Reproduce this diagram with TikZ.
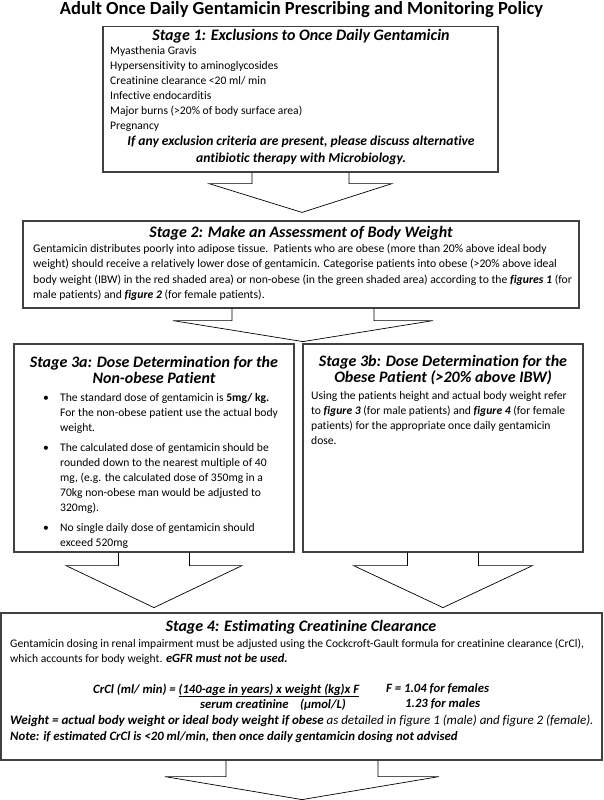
\documentclass[tikz,border=0pt]{standalone}
\usepackage{fontspec}
\setmainfont{Carlito}[Ligatures=NoCommon]
\usetikzlibrary{positioning, calc}
\definecolor{boxgray}{RGB}{64, 64, 64}

% block arrow: from, tip, stem half width, head half width, stem length
\newcommand{\flowarrow}[5]{%
  \draw[arrowline] ($(#1)+(-#3,0)$) -- ($(#1)+(-#3,#5)$) -- ($(#1)+(-#4,#5)$)
    -- (#2) -- ($(#1)+(#4,#5)$) -- ($(#1)+(#3,#5)$) -- ($(#1)+(#3,0)$);
}

\begin{document}
\begin{tikzpicture}[x=1pt, y=-1pt,
  stagebox/.style={draw=boxgray, line width=1.2pt, inner sep=0pt},
  arrowline/.style={draw=black, line width=0.7pt, line join=miter},
  heading/.style={font=\bfseries\itshape\fontsize{16}{16.5}\selectfont, align=center, inner sep=0pt},
  body/.style={font=\fontsize{11.6}{15}\selectfont, align=left, inner sep=0pt, anchor=north west},
  formula/.style={body, font=\bfseries\itshape\fontsize{12.7}{15}\selectfont},
  note/.style={font=\bfseries\itshape\fontsize{13.6}{17}\selectfont, align=center, inner sep=0pt}
]
  \useasboundingbox (0,0) rectangle (603,800);

  \node[font=\bfseries\fontsize{18.5}{20}\selectfont, inner sep=0pt] (title) at (301.5,10)
    {Adult Once Daily Gentamicin Prescribing and Monitoring Policy};

  % Stage 1
  \node[stagebox, minimum width=395, minimum height=145.5] (s1) at (300.5,99.25) {};
  \node[heading] (s1head) at (301,36.5) {Stage 1: Exclusions to Once Daily Gentamicin};
  \node[body] (s1list) at (110,46) {
    Myasthenia Gravis\\
    Hypersensitivity to aminoglycosides\\
    Creatinine clearance <20 ml/ min\\
    Infective endocarditis\\
    Major burns (>20\% of body surface area)\\
    Pregnancy
  };
  \node[note] (s1note) at (301,150) {
    If any exclusion criteria are present, please discuss alternative\\
    antibiotic therapy with Microbiology.
  };

  % Stage 2
  \node[stagebox, minimum width=556, minimum height=87] (s2) at (301,264.5) {};
  \node[heading] (s2head) at (301,233) {Stage 2: Make an Assessment of Body Weight};
  \node[body, font=\fontsize{11.7}{15.5}\selectfont] (s2text) at (33,243.5) {
    Gentamicin distributes poorly into adipose tissue.\ \ Patients who are obese (more than 20\% above ideal body\\
    weight) should receive a relatively lower dose of gentamicin. Categorise patients into obese (>20\% above ideal\\
    body weight (IBW) in the red shaded area) or non-obese (in the green shaded area) according to the \textbf{\textit{figures 1}} (for\\
    male patients) and \textbf{\textit{figure 2}} (for female patients).
  };

  % Stage 3a
  \node[stagebox, minimum width=280, minimum height=208] (s3a) at (154,448) {};
  \node[heading] (s3ahead) at (154,370) {Stage 3a: Dose Determination for the\\Non-obese Patient};
  \node[body] (s3atext) at (43,391) {
    \begin{tabular}{@{}p{12pt}@{\hspace{5pt}}l@{}}
      \textbullet & The standard dose of gentamicin is \textbf{5mg/ kg.}\\
                  & For the non-obese patient use the actual body\\
                  & weight.\\[5pt]
      \textbullet & The calculated dose of gentamicin should be\\
                  & rounded down to the nearest multiple of 40\\
                  & mg, (e.g. the calculated dose of 350mg in a\\
                  & 70kg non-obese man would be adjusted to\\
                  & 320mg).\\[5pt]
      \textbullet & No single daily dose of gentamicin should\\
                  & exceed 520mg
    \end{tabular}
  };

  % Stage 3b
  \node[stagebox, minimum width=280, minimum height=208] (s3b) at (443,448) {};
  \node[heading] (s3bhead) at (443,370) {Stage 3b: Dose Determination for the\\Obese Patient (>20\% above IBW)};
  \node[body] (s3btext) at (311,391) {
    Using the patients height and actual body weight refer\\
    to \textbf{\textit{figure 3}} (for male patients) and \textbf{\textit{figure 4}} (for female\\
    patients) for the appropriate once daily gentamicin\\
    dose.
  };

  % Stage 4
  \node[stagebox, minimum width=601, minimum height=147] (s4) at (301.5,686.5) {};
  \node[heading] (s4head) at (301,627) {Stage 4: Estimating Creatinine Clearance};
  \node[body] (s4text) at (10,639) {
    Gentamicin dosing in renal impairment must be adjusted using the Cockcroft-Gault formula for creatinine clearance (CrCl),\\
    which accounts for body weight. \textbf{\textit{\fontsize{12.5}{15}\selectfont eGFR must not be used.}}
  };
  \node[formula] (f1) at (93,683.5)
    {CrCl (ml/ min) = \underline{(140-age in years) x weight (kg)x F}};
  \node[formula] (f2) at (386,683.5) {F = 1.04 for females};
  \node[formula] (f3) at (200,698.5) {serum creatinine\ \ \ \ (µmol/L)};
  \node[formula] (f4) at (405,698.5) {1.23 for males};
  \node[body, font=\itshape\fontsize{13}{16}\selectfont] (s4note) at (10,715) {
    \textbf{Weight = actual body weight or ideal body weight if obese} as detailed in figure 1 (male) and figure 2 (female).\\
    \textbf{\fontsize{12.8}{16}\selectfont Note: if estimated CrCl is <20 ml/min, then once daily gentamicin dosing not advised}
  };

  % arrows between stages
  \coordinate (tip1) at ($(s2.north)+(1,-8)$);
  \coordinate (tip2) at ($(s2.south)+(2,33)$);
  \coordinate (tip3a) at ($(s3a.south)+(0,55)$);
  \coordinate (tip3b) at ($(s3b.south)+(0,55)$);
  \coordinate (tip4) at ($(s4.south)+(0.5,39)$);
  \flowarrow{s1.south}{tip1}{48.5}{91.5}{11}
  \flowarrow{$(s2.south)+(2,0)$}{tip2}{71}{130}{12}
  \flowarrow{s3a.south}{tip3a}{35.5}{88}{13}
  \flowarrow{s3b.south}{tip3b}{35.5}{89.5}{13}
  \flowarrow{$(s4.south)+(0.5,0)$}{tip4}{76}{137}{16}
\end{tikzpicture}
\end{document}
